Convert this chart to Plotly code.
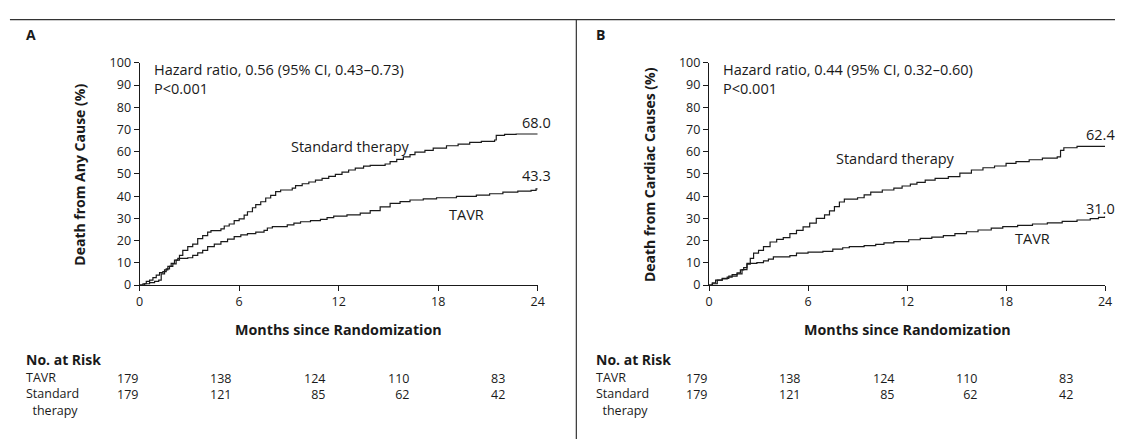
import plotly.graph_objects as go

# ---------------- data ----------------
months_ticks = [0, 6, 12, 18, 24]
y_ticks = [0, 10, 20, 30, 40, 50, 60, 70, 80, 90, 100]

a_std_t = [0, 0.2, 0.4, 0.6, 0.8, 1.0, 1.2, 1.4, 1.6, 1.8, 2.0, 2.2, 2.4, 2.6, 2.9, 3.2, 3.5, 3.8, 4.1, 4.3,
           4.9, 5.1, 5.4, 5.7, 6.0, 6.3, 6.5, 6.8, 7.0, 7.3, 7.6, 7.9, 8.2, 8.5, 9.2, 9.4, 9.8, 10.2, 10.6,
           11.0, 11.4, 11.8, 12.2, 12.6, 13.0, 13.5, 13.9, 14.8, 15.1, 15.5, 15.9, 16.3, 16.6, 17.2, 17.7,
           18.5, 19.2, 19.9, 20.6, 21.4, 21.5, 22.0, 22.7, 24.0]
a_std_v = [0, 0.6, 1.7, 2.2, 3.4, 4.5, 5.6, 6.1, 7.3, 8.4, 9.5, 11.2, 13.4, 15.6, 17.3, 18.4, 20.9, 22.3, 23.8, 24.5,
           25.3, 26.6, 27.5, 29.0, 29.8, 31.5, 33.0, 34.8, 36.2, 37.5, 39.2, 40.4, 42.1, 42.8, 43.6, 44.8, 45.6, 46.4, 47.2,
           48.0, 48.9, 49.8, 50.8, 51.8, 52.6, 53.5, 53.9, 54.5, 55.6, 56.6, 57.7, 58.7, 59.8, 60.6, 61.6,
           62.7, 63.4, 64.2, 64.7, 65.3, 67.4, 67.8, 68.0, 68.0]

a_tavr_t = [0, 0.3, 0.6, 0.9, 1.15, 1.3, 1.5, 1.7, 1.9, 2.1, 2.3, 2.9, 3.2, 3.5, 3.8, 4.1, 4.5, 4.9, 5.3, 5.7,
            6.1, 6.5, 7.0, 7.5, 7.7, 8.0, 8.9, 9.3, 9.7, 10.3, 10.9, 11.3, 11.7, 12.5, 13.3, 13.9, 14.5, 15.1,
            15.7, 16.3, 17.1, 17.9, 19.1, 20.3, 21.1, 21.9, 22.8, 23.6, 23.9, 24.0]
a_tavr_v = [0, 0.6, 1.1, 1.7, 2.2, 5.0, 6.8, 8.4, 9.8, 11.2, 12.0, 12.3, 13.4, 14.5, 15.6, 17.3, 18.4, 19.6, 20.7, 21.8,
            22.6, 23.2, 23.8, 24.6, 25.7, 26.3, 27.1, 27.9, 28.5, 29.0, 29.6, 30.4, 31.0, 31.6, 32.4, 33.5, 35.2, 36.8,
            37.6, 38.3, 38.8, 39.3, 39.9, 40.5, 41.1, 41.8, 42.3, 42.6, 43.3, 43.3]

b_std_t = [0, 0.2, 0.5, 0.8, 1.2, 1.7, 2.0, 2.3, 2.5, 2.7, 3.0, 3.3, 3.7, 4.1, 4.5, 4.9, 5.3, 5.7, 6.1, 6.5,
           7.0, 7.3, 7.6, 7.9, 8.2, 9.0, 9.4, 9.8, 10.5, 11.2, 11.7, 12.2, 12.6, 13.1, 13.7, 14.5, 15.2, 15.9,
           16.6, 17.3, 18.0, 18.6, 19.4, 20.2, 21.1, 21.3, 21.5, 22.3, 24.0]
b_std_v = [0, 0.6, 2.2, 3.0, 4.0, 5.0, 7.0, 9.4, 12.0, 14.4, 15.6, 17.3, 19.4, 20.6, 21.4, 23.2, 24.6, 26.2, 27.9, 30.0,
           31.6, 33.4, 35.3, 37.4, 38.7, 39.3, 40.6, 41.8, 42.8, 43.6, 44.6, 45.4, 46.2, 47.2, 48.0, 48.8, 50.4, 51.8,
           52.8, 53.6, 54.8, 55.6, 56.4, 57.1, 57.7, 60.6, 61.8, 62.4, 62.4]

b_tavr_t = [0, 0.2, 0.4, 0.8, 1.1, 1.4, 1.7, 1.9, 2.1, 2.3, 2.9, 3.3, 3.6, 3.9, 4.9, 5.3, 6.0, 6.9, 7.5, 8.1,
            8.5, 9.4, 10.1, 10.6, 11.2, 12.1, 12.8, 13.5, 14.2, 14.9, 15.6, 16.3, 17.1, 17.8, 18.7, 19.6, 20.5,
            21.4, 22.3, 23.1, 23.6, 24.0]
b_tavr_v = [0, 1.0, 2.2, 2.8, 3.6, 4.7, 5.5, 6.8, 7.9, 9.8, 10.1, 10.9, 11.7, 12.7, 13.3, 14.4, 14.8, 15.2, 16.2, 16.8,
            17.3, 17.8, 18.3, 19.0, 19.6, 20.4, 21.0, 21.6, 22.3, 23.2, 24.0, 24.8, 25.6, 26.3, 26.9, 27.5, 28.0,
            28.7, 29.3, 29.9, 30.5, 31.0]

risk_tavr = ["179", "138", "124", "110", "83"]
risk_std = ["179", "121", "85", "62", "42"]
risk_groups = ["TAVR", "Standard", "\u00a0\u00a0therapy"]

panels = [
    dict(letter="A", ytitle="Death from Any Cause (%)",
         hr="Hazard ratio, 0.56 (95% CI, 0.43–0.73)", end_std="68.0", end_tavr="43.3",
         std=(a_std_t, a_std_v), tavr=(a_tavr_t, a_tavr_v)),
    dict(letter="B", ytitle="Death from Cardiac Causes (%)",
         hr="Hazard ratio, 0.44 (95% CI, 0.32–0.60)", end_std="62.4", end_tavr="31.0",
         std=(b_std_t, b_std_v), tavr=(b_tavr_t, b_tavr_v)),
]

# ---------------- layout helpers ----------------
W, H = 1122, 447
FONT = "Open Sans"
INK = "#1a1a1a"
TXT = 14.5
TICK = 12.5


def fx(px):  # window pixel -> paper x
    return px / W


def fy(py):  # window pixel -> paper y
    return 1 - py / H


x_domains = [(fx(137), fx(539)), (fx(712), fx(1112))]
y_domain = (fy(287), fy(56))
panel_left = [20, 596]
ytitle_x = [76, 652]
risk_cols = [0.0, 5.65, 11.3, 16.35, 22.15]  # column right edges, in months

fig = go.Figure()
annotations = []
shapes = []

for i, p in enumerate(panels):
    xa = "x" if i == 0 else "x2"
    ya = "y" if i == 0 else "y2"
    for key in ("std", "tavr"):
        t, v = p[key]
        fig.add_trace(go.Scatter(x=t, y=v, mode="lines", line=dict(color=INK, width=1.2, shape="hv"),
                                 xaxis=xa, yaxis=ya, showlegend=False, hoverinfo="skip"))
    axis_common = dict(showline=True, linecolor=INK, linewidth=1.2, ticks="outside", ticklen=5,
                       tickwidth=1.2, tickcolor=INK, showgrid=False, zeroline=False,
                       tickfont=dict(family=FONT, size=TICK, color=INK))
    fig.update_layout(**{
        ("xaxis" if i == 0 else "xaxis2"): dict(domain=list(x_domains[i]), range=[0, 24],
                                               tickvals=months_ticks, anchor=ya, **axis_common),
        ("yaxis" if i == 0 else "yaxis2"): dict(domain=list(y_domain), range=[0, 100],
                                               tickvals=y_ticks, anchor=xa, **axis_common),
    })
    xr, yr = xa, ya
    x0d, x1d = x_domains[i]
    # panel letter
    annotations.append(dict(text="<b>%s</b>" % p["letter"], x=fx(panel_left[i]), y=fy(27), xref="paper",
                            yref="paper", xanchor="left", yanchor="middle", showarrow=False,
                            font=dict(family=FONT, size=14, color=INK)))
    # y title
    annotations.append(dict(text="<b>%s</b>" % p["ytitle"], x=fx(ytitle_x[i]), y=fy(172), xref="paper",
                            yref="paper", xanchor="center", yanchor="middle", textangle=-90, showarrow=False,
                            font=dict(family=FONT, size=14, color=INK)))
    # x title
    annotations.append(dict(text="<b>Months since Randomization</b>", x=(x0d + x1d) / 2, y=fy(333),
                            xref="paper", yref="paper", xanchor="center", yanchor="middle", showarrow=False,
                            font=dict(family=FONT, size=14.3, color=INK)))
    # hazard ratio text
    annotations.append(dict(text=p["hr"], x=0.75, y=96.8, xref=xr, yref=yr,
                            xanchor="left", yanchor="middle", showarrow=False,
                            font=dict(family=FONT, size=TXT, color=INK)))
    annotations.append(dict(text="P<0.001", x=0.75, y=88.4, xref=xr, yref=yr,
                            xanchor="left", yanchor="middle", showarrow=False,
                            font=dict(family=FONT, size=TXT, color=INK)))
    # curve labels
    if i == 0:
        lab = [("Standard therapy", 12.7, 62.2, "center"), (p["end_std"], 23.9, 73.0, "center"),
               (p["end_tavr"], 23.9, 49.2, "center"), ("TAVR", 19.7, 31.9, "center")]
    else:
        lab = [("Standard therapy", 11.3, 57.0, "center"), (p["end_std"], 22.7, 67.8, "left"),
               (p["end_tavr"], 22.7, 34.5, "left"), ("TAVR", 19.6, 21.0, "center")]
    for txt, lx, ly, anc in lab:
        annotations.append(dict(text=txt, x=lx, y=ly, xref=xr, yref=yr, xanchor=anc, yanchor="middle",
                                showarrow=False, font=dict(family=FONT, size=TXT, color=INK)))
    # at-risk table
    annotations.append(dict(text="<b>No. at Risk</b>", x=fx(panel_left[i]), y=fy(364), xref="paper",
                            yref="paper", xanchor="left", yanchor="middle", showarrow=False,
                            font=dict(family=FONT, size=14, color=INK)))
    annotations.append(dict(text="<br>".join(risk_groups), x=fx(panel_left[i]), y=fy(400), xref="paper",
                            yref="paper", xanchor="left", yanchor="middle", align="left", showarrow=False,
                            font=dict(family=FONT, size=12.5, color=INK)))
    for a_val, s_val, cx in zip(risk_tavr, risk_std, risk_cols):
        annotations.append(dict(text=a_val + "<br>" + s_val, x=cx, y=fy(392), xref=xr, yref="paper",
                                xanchor="right", yanchor="middle", align="right", showarrow=False,
                                font=dict(family=FONT, size=TICK, color=INK)))

# frame lines
shapes.append(dict(type="line", xref="paper", yref="paper", x0=fx(6), x1=1, y0=fy(11), y1=fy(11),
                   line=dict(color="#333333", width=1.2)))
shapes.append(dict(type="line", xref="paper", yref="paper", x0=fx(578), x1=fx(578), y0=0, y1=fy(11),
                   line=dict(color="#333333", width=1.2)))

fig.update_layout(width=W, height=H, margin=dict(l=0, r=0, t=0, b=0), paper_bgcolor="white",
                  plot_bgcolor="white", annotations=annotations, shapes=shapes,
                  font=dict(family=FONT, color=INK))

fig.write_html("out.html", config={"displayModeBar": False},
               post_script="document.body.style.margin='0px';document.body.style.overflow='hidden';")
